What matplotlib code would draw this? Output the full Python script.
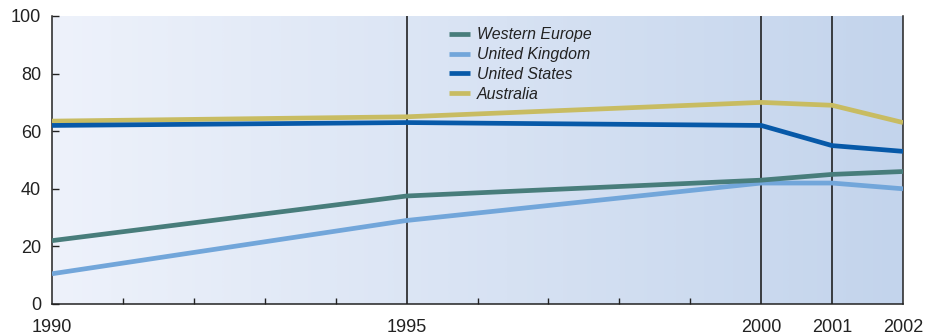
import numpy as np
import matplotlib
matplotlib.use("Agg")
import matplotlib.pyplot as plt
from matplotlib.colors import LinearSegmentedColormap
from matplotlib.ticker import FixedLocator

plt.rcParams['font.family'] = ['Liberation Sans', 'DejaVu Sans']

years = [1990, 1995, 2000, 2001, 2002]
western_europe = [22, 37.5, 43, 45, 46]
united_kingdom = [10.5, 29, 42, 42, 40]
united_states = [62, 63, 62, 55, 53]
australia = [63.5, 65, 70, 69, 63]

series_names = ["Western Europe", "United Kingdom", "United States", "Australia"]
series_values = [western_europe, united_kingdom, united_states, australia]
series_colors = ["#487d7b", "#72a6da", "#0759a8", "#c8bc62"]

fig = plt.figure(figsize=(9.26, 3.35), dpi=100)
ax = fig.add_axes([52 / 926, 31 / 335, 851 / 926, 288 / 335])

# horizontal light-to-blue background wash
cmap = LinearSegmentedColormap.from_list("wash", ["#eef2fb", "#c3d4ec"])
grad = np.linspace(0, 1, 512).reshape(1, -1)
ax.imshow(grad, cmap=cmap, aspect="auto", extent=[0, 1, 0, 1],
          transform=ax.transAxes, zorder=0, interpolation="bilinear")

# vertical dividers at the labelled years
for yr in years[1:-1]:
    ax.axvline(yr, color="#111111", lw=1.1, zorder=1)

draw_order = [3, 2, 1, 0]
handles = {}
for i in draw_order:
    (ln,) = ax.plot(years, series_values[i], color=series_colors[i], lw=3.4,
                    solid_capstyle="butt", solid_joinstyle="round", zorder=3 + (3 - i))
    handles[i] = ln

ax.set_xlim(1990, 2002)
ax.set_ylim(0, 100)
ax.set_yticks([0, 20, 40, 60, 80, 100])
ax.set_xticks(years)
ax.set_xticklabels([str(y) for y in years])
ax.xaxis.set_minor_locator(FixedLocator([y for y in range(1990, 2003) if y not in years]))

ax.tick_params(axis="x", which="major", length=0, pad=11, labelsize=13, colors="#222222")
ax.tick_params(axis="x", which="minor", direction="in", length=4, width=1, color="#222222")
ax.tick_params(axis="y", which="major", direction="in", length=5, width=1, pad=8,
               labelsize=13, colors="#222222")

for side in ["left", "bottom", "right"]:
    ax.spines[side].set_color("#222222")
    ax.spines[side].set_linewidth(1.1)
ax.spines["top"].set_visible(False)

leg = ax.legend([handles[i] for i in range(4)], series_names,
                loc="upper left", bbox_to_anchor=(0.45, 1.01), frameon=False,
                handlelength=1.3, handletextpad=0.45, labelspacing=0.3,
                prop={"style": "italic", "size": 11.4})
for txt in leg.get_texts():
    txt.set_color("#222222")

fig.savefig("out.png", dpi=100)
